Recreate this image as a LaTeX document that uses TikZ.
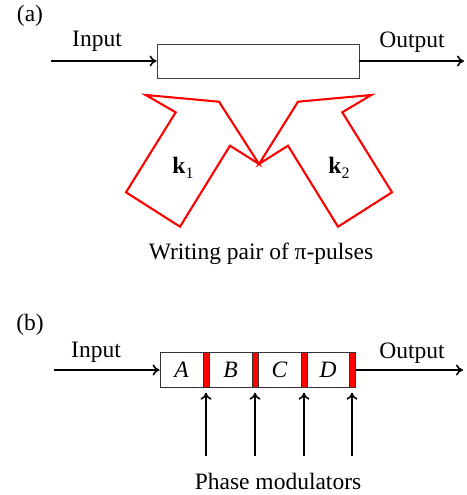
\documentclass[tikz,border=0pt]{standalone}
\usepackage{fontspec}
\setmainfont{Liberation Serif}
\usetikzlibrary{arrows.meta}
\tikzset{
  lbl/.style={font=\fontsize{23.5}{26}\selectfont, inner sep=0pt},
  flow/.style={line width=1.6pt, -{To[length=7pt,width=11pt]}},
  pulse/.style={draw=red, line width=2.1pt, line join=miter},
  cell/.style={draw=black!80, line width=0.9pt, minimum height=34.6pt, inner sep=0pt, font=\fontsize{23.5}{26}\selectfont\itshape},
  bar/.style={draw=black!80, fill=red, line width=0.8pt, minimum width=6pt, minimum height=34.6pt, inner sep=0pt},
}
\begin{document}
\begin{tikzpicture}[x=1pt,y=-1pt]
\useasboundingbox (0,0) rectangle (466,495);
% ---------- (a)
\node[lbl] (la) at (30,16) {(a)};
\node[draw=black!75, line width=0.9pt, minimum width=202pt, minimum height=34pt, inner sep=0pt] (box) at (258,61) {};
\node[lbl] (ina) at (97,41) {Input};
\node[lbl] (outa) at (412,42) {Output};
\coordinate (ina0) at (51,61);
\coordinate (outa1) at (464,61);
\draw[flow] (ina0) -- (box.west);
\draw[flow] (box.east) -- (outa1);
% pulses
\draw[pulse] (145.7,95) -- (219,101.7) -- (259,164) -- (230,145.7) -- (180,226.7) -- (126,192.3) -- (175.7,112.3) -- cycle;
\draw[pulse] (371.3,95) -- (298,101.7) -- (259,164) -- (288,145.7) -- (338,226.7) -- (392,192.3) -- (342.3,112.3) -- cycle;
\node[lbl] (k1) at (183,168) {\textbf{k}\raisebox{-5pt}{\fontsize{16}{16}\selectfont 1}};
\node[lbl] (k2) at (339,168) {\textbf{k}\raisebox{-5pt}{\fontsize{16}{16}\selectfont 2}};
\node[lbl] (wp) at (261,254) {Writing pair of π-pulses};
% ---------- (b)
\node[lbl] (lb) at (30,325) {(b)};
\node[lbl] (inb) at (96,352) {Input};
\node[lbl] (outb) at (412,353) {Output};
\node[cell, minimum width=43pt] (A) at (181.5,370) {A};
\node[bar] (r1) at (206,370) {};
\node[cell, minimum width=43pt] (B) at (230.5,370) {B};
\node[bar] (r2) at (255,370) {};
\node[cell, minimum width=43pt] (C) at (279.5,370) {C};
\node[bar] (r3) at (304,370) {};
\node[cell, minimum width=42pt] (D) at (328,370) {D};
\node[bar] (r4) at (352,370) {};
\coordinate (inb0) at (54,370);
\coordinate (outb1) at (463,370);
\draw[flow] (inb0) -- (A.west);
\draw[flow] (r4.east) -- (outb1);
\foreach \i in {1,2,3,4} {
  \coordinate (m\i) at ([yshift=-68pt]r\i.south);
  \draw[flow] (m\i) -- ([yshift=-5pt]r\i.south);
}
\node[lbl] (pm) at (278,481) {Phase modulators};
\end{tikzpicture}
\end{document}
